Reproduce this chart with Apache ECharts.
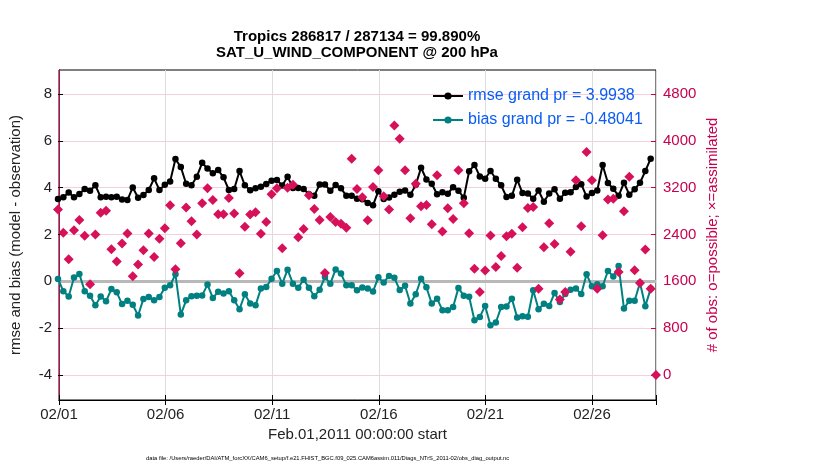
<!DOCTYPE html>
<html>
<head>
	<meta charset="utf-8">
	<script src="https://cdn.jsdelivr.net/npm/echarts@6/dist/echarts.min.js"></script>
	<title>SAT_U_WIND_COMPONENT @ 200 hPa</title>
	<style>html,body{margin:0;padding:0;background:#fff;}</style>
</head>
<body>
	<div id="main" style="width:830px;height:470px;"></div>

	<script type="text/javascript">
	// 6-hourly bins starting 02/01 00:00
	var rmse = [3.52,3.59,3.79,3.59,3.73,3.94,3.87,4.10,3.59,3.61,
		3.59,3.61,3.50,3.47,4.01,3.57,3.69,3.90,4.40,3.90,
		4.12,4.26,5.22,4.88,4.17,4.10,4.47,5.06,4.82,4.62,
		4.75,4.44,3.90,3.94,4.71,4.10,3.89,3.98,4.04,4.16,
		4.30,4.33,4.09,4.47,3.99,3.99,3.94,3.72,3.66,4.13,
		4.13,3.87,4.11,3.97,3.66,3.66,3.53,3.51,3.35,3.25,
		3.85,3.52,3.58,3.70,3.83,3.88,3.70,4.12,4.85,4.35,
		4.17,3.72,3.80,3.74,4.02,3.87,3.57,4.70,4.97,4.48,
		4.38,4.71,4.38,4.10,3.60,3.65,4.34,3.77,3.75,3.53,
		3.88,3.40,3.75,3.93,3.53,3.78,3.80,4.03,4.15,3.62,
		3.77,3.88,4.97,4.20,3.95,3.65,4.21,3.70,3.93,4.21,
		4.71,5.24];

	var bias = [0.10,-0.42,-0.65,0.16,0.31,-0.42,-0.62,-1.02,-0.65,-0.85,
		-0.33,-0.47,-0.97,-0.83,-1.00,-1.46,-0.75,-0.67,-0.81,-0.67,
		-0.27,-0.17,0.30,-1.42,-0.81,-0.64,-0.62,-0.60,-0.14,-0.71,
		-0.45,-0.52,-0.42,-0.81,-1.19,-0.55,-0.95,-1.02,-0.31,-0.24,
		0.11,0.44,-0.10,0.50,-0.10,-0.27,0.07,-0.27,-0.64,-0.36,
		0.18,-0.10,0.51,0.33,-0.17,-0.17,-0.38,-0.26,-0.31,-0.43,
		0.17,-0.05,0.23,0.15,-0.37,-0.19,-0.95,-0.55,0.11,-0.25,
		-0.95,-0.74,-1.23,-1.23,-1.10,-0.28,-0.62,-0.66,-1.66,-1.52,
		-1.05,-1.88,-1.76,-1.10,-1.08,-0.74,-1.54,-1.49,-1.51,-0.38,
		-1.19,-0.96,-1.05,-0.50,-0.88,-0.54,-0.36,-0.31,-0.54,0.30,
		-0.21,-0.12,-0.21,0.44,0.21,0.65,-1.16,-0.83,-0.83,-0.06,
		-1.06,-0.31];

	var nobs = [2825,2429,1977,2474,2646,2377,1549,2400,2771,2806,
		2149,1937,2246,2417,1686,1886,2131,2417,2017,2326,
		2508,2898,1808,2250,2860,2625,2400,2935,3190,2990,
		2748,2748,3024,2760,1737,2534,2740,2780,2414,2614,
		3086,3192,2165,3200,3250,2352,2494,3070,2836,2648,
		1742,2700,2614,2585,2517,3695,3178,3035,2642,3210,
		3496,3052,2825,4264,4037,3496,2676,3268,2881,2906,
		2574,3410,2450,2850,2665,3496,2933,2422,1816,1418,
		1787,2383,1844,2031,2371,2411,1833,2525,2854,2870,
		1475,2184,2593,2238,1288,1418,2105,3325,2540,3809,
		3325,1475,2386,2998,3012,1759,2798,3388,1788,1571,
		2144,1475,0];

	var dateLabels = ['02/01','02/06','02/11','02/16','02/21','02/26'];

	var crimson = '#c8004d';
	var font = 'Liberation Sans, Helvetica, Arial, sans-serif';

	// index -> days since 02/01 00:00 (6 h bins)
	function pts(arr) {
		return arr.map(function (v, i) { return [i * 0.25, v]; });
	}

	var myChart = echarts.init(document.getElementById('main'));

	var option = {
		animation: false,
		textStyle: { fontFamily: font },
		title: {
			text: 'Tropics 286817 / 287134 = 99.890%\nSAT_U_WIND_COMPONENT @ 200 hPa',
			left: 357, top: 29, padding: 0, textAlign: 'center',
			textStyle: { fontSize: 15, fontWeight: 'bold', lineHeight: 16, color: '#000', fontFamily: font }
		},
		legend: {
			data: ['rmse grand pr = 3.9938', 'bias grand pr = -0.48041'],
			orient: 'vertical', left: 432, top: 88, padding: 0,
			itemWidth: 30, itemHeight: 9, itemGap: 8,
			selectedMode: false,
			textStyle: { color: '#0b5cf5', fontSize: 16, fontFamily: font }
		},
		grid: [
			{ left: 58, right: 174, top: 70, bottom: 70, show: true, borderColor: '#000', borderWidth: 1, backgroundColor: '#fff' },
			{ left: 58, right: 174, top: 94, bottom: 95 }
		],
		xAxis: [
			{
				gridIndex: 0, type: 'value', min: 0, max: 28, interval: 5, position: 'bottom',
				axisLine: { show: true, lineStyle: { color: '#000' } },
				axisTick: { show: true, inside: true, length: 5, lineStyle: { color: '#000' } },
				axisLabel: {
					fontSize: 15, color: '#222', margin: 7,
					formatter: function (v) {
						var k = v / 5;
						return (k === Math.round(k) && dateLabels[k]) ? dateLabels[k] : '';
					}
				},
				splitLine: { show: true, lineStyle: { color: '#dcdcdc', width: 1 } },
				name: 'Feb.01,2011 00:00:00 start', nameLocation: 'middle', nameGap: 26,
				nameTextStyle: { fontSize: 15, color: '#222' }
			},
			{
				gridIndex: 0, type: 'value', min: 0, max: 28, interval: 5, position: 'top',
				axisLine: { show: true, lineStyle: { color: '#000' } },
				axisTick: { show: true, inside: true, length: 5, lineStyle: { color: '#000' } },
				axisLabel: { show: false },
				splitLine: { show: false }
			},
			{ gridIndex: 1, type: 'value', min: 0, max: 28, show: false }
		],
		yAxis: [
			{
				gridIndex: 0, type: 'value', min: 0, max: 1, position: 'left',
				axisLine: { show: true, lineStyle: { color: '#000' } },
				axisTick: { show: false }, axisLabel: { show: false }, splitLine: { show: false },
				name: 'rmse and bias (model - observation)', nameLocation: 'middle', nameRotate: 90, nameGap: 36,
				nameTextStyle: { fontSize: 15, color: '#222' }
			},
			{
				gridIndex: 0, type: 'value', min: 0, max: 1, position: 'right',
				axisLine: { show: true, lineStyle: { color: crimson } },
				axisTick: { show: false }, axisLabel: { show: false }, splitLine: { show: false },
				name: '# of obs: o=possible; \u00d7=assimilated', nameLocation: 'middle', nameRotate: 90, nameGap: 49,
				nameTextStyle: { fontSize: 15, color: crimson }
			},
			{
				gridIndex: 1, type: 'value', min: -4, max: 8, interval: 2, position: 'left',
				axisLine: { show: false },
				axisTick: { show: true, inside: true, length: 5, lineStyle: { color: '#000' } },
				axisLabel: { fontSize: 15, color: '#222', margin: 6 },
				splitLine: { show: false }
			},
			{
				gridIndex: 1, type: 'value', min: 0, max: 4800, interval: 800, position: 'right',
				axisLine: { show: false },
				axisTick: { show: true, inside: true, length: 5, lineStyle: { color: crimson } },
				axisLabel: { fontSize: 15, color: crimson, margin: 7, formatter: function (v) { return String(v); } },
				splitLine: { show: true, lineStyle: { color: '#f4cfdf', width: 1 } }
			}
		],
		graphic: [{
			type: 'text', left: 146, top: 455,
			style: {
				text: 'data file: /Users/raeder/DAI/ATM_forcXX/CAM6_setup/f.e21.FHIST_BGC.f09_025.CAM6assim.011/Diags_NTrS_2011-02/obs_diag_output.nc',
				font: '5.8px ' + font, fill: '#000'
			}
		}],
		series: [
			{
				name: 'bias grand pr = -0.48041', type: 'line', xAxisIndex: 2, yAxisIndex: 2,
				data: pts(bias), symbol: 'circle', symbolSize: 6.5,
				lineStyle: { color: '#008080', width: 2 }, itemStyle: { color: '#008080' },
				emphasis: { disabled: true }, z: 3,
				markLine: {
					silent: true, symbol: 'none', label: { show: false },
					lineStyle: { color: '#b8b8b8', width: 3, type: 'solid' },
					data: [{ yAxis: 0 }], z: 2
				}
			},
			{
				name: 'rmse grand pr = 3.9938', type: 'line', xAxisIndex: 2, yAxisIndex: 2,
				data: pts(rmse), symbol: 'circle', symbolSize: 6.5,
				lineStyle: { color: '#000', width: 2 }, itemStyle: { color: '#000' },
				emphasis: { disabled: true }, z: 3
			},
			{
				name: 'obs', type: 'scatter', xAxisIndex: 2, yAxisIndex: 3,
				data: pts(nobs), symbol: 'diamond', symbolSize: 10,
				itemStyle: { color: '#d6115a', opacity: 1 },
				emphasis: { disabled: true }, z: 4
			}
		]
	};

	myChart.setOption(option);
	</script>
</body>
</html>
